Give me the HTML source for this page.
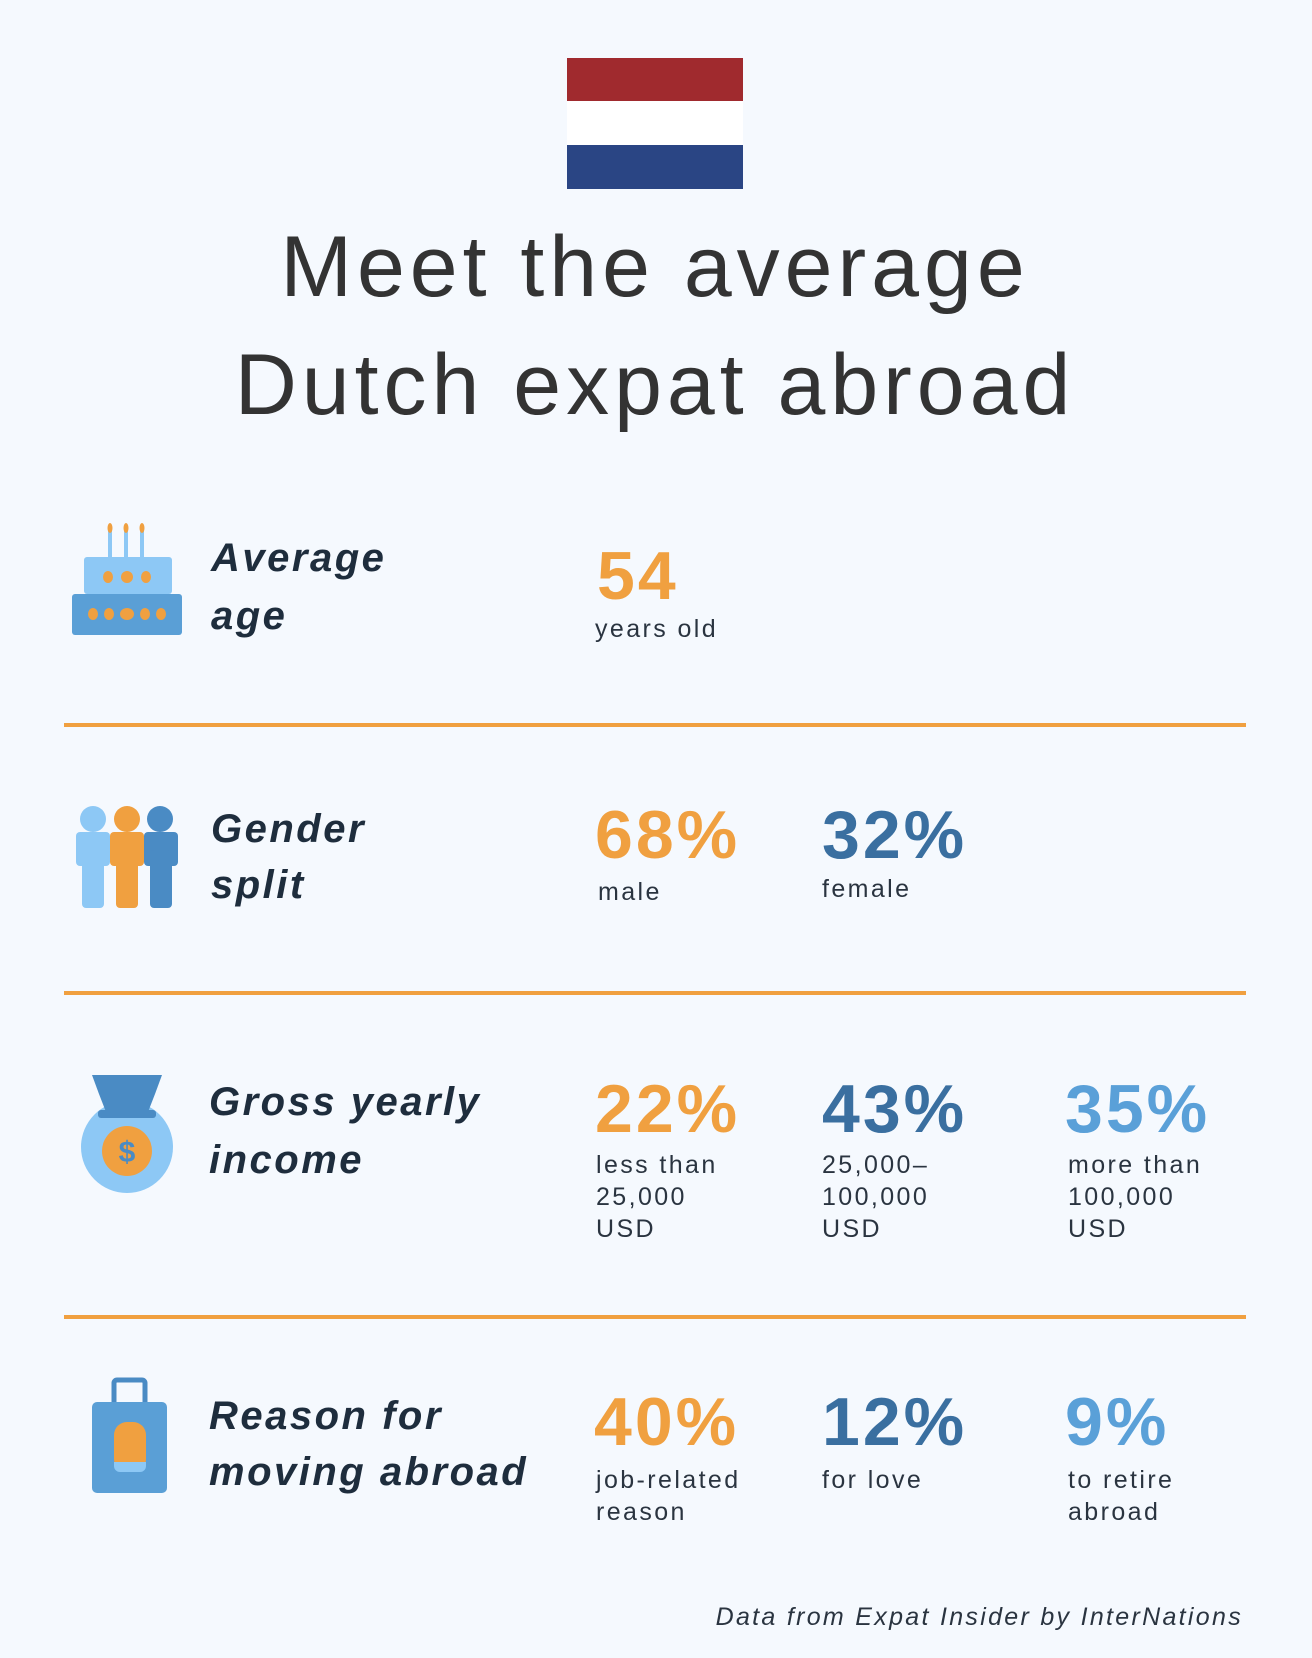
<!DOCTYPE html>
<html><head><meta charset="utf-8"><style>
html,body{margin:0;padding:0;background:#f5f9fe;}
svg{display:block;}
text{font-family:"Liberation Sans",sans-serif;}
.h{font-style:italic;font-weight:bold;font-size:40px;fill:#1e2d3d;letter-spacing:2.5px;}
.n{font-weight:bold;font-size:68px;letter-spacing:3px;}
.s{font-size:25px;fill:#2a3440;letter-spacing:2.4px;}
.t{font-size:86px;fill:#333;letter-spacing:5px;}
</style></head><body>
<svg width="1312" height="1658" viewBox="0 0 1312 1658">
<rect width="1312" height="1658" fill="#f5f9fe"/>
<rect x="567" y="58" width="176" height="43" fill="#a02a2e"/>
<rect x="567" y="101" width="176" height="44" fill="#ffffff"/>
<rect x="567" y="145" width="176" height="44" fill="#2a4584"/>
<text class="t" x="655" y="296" text-anchor="middle">Meet the average</text>
<text class="t" x="655" y="414" text-anchor="middle">Dutch expat abroad</text>

<!-- cake -->
<g fill="#8dc8f5"><rect x="108" y="530" width="4" height="28"/><rect x="124" y="530" width="4" height="28"/><rect x="140" y="530" width="4" height="28"/></g>
<g fill="#f0a040"><ellipse cx="110" cy="528" rx="2.5" ry="5"/><ellipse cx="126" cy="528" rx="2.5" ry="5"/><ellipse cx="142" cy="528" rx="2.5" ry="5"/></g>
<rect x="84" y="557" width="88" height="37" rx="3" fill="#8dc8f5"/>
<rect x="72" y="594" width="110" height="41" rx="3" fill="#5a9fd6"/>
<g fill="#f0a040"><ellipse cx="108" cy="577" rx="5" ry="6"/><ellipse cx="127" cy="577" rx="6" ry="6"/><ellipse cx="146" cy="577" rx="5" ry="6"/>
<ellipse cx="93" cy="614" rx="5" ry="6"/><ellipse cx="109" cy="614" rx="5" ry="6"/><ellipse cx="127" cy="614" rx="7" ry="6"/><ellipse cx="145" cy="614" rx="5" ry="6"/><ellipse cx="161" cy="614" rx="5" ry="6"/></g>
<text class="h" x="211" y="571">Average</text>
<text class="h" x="211" y="629">age</text>
<text class="n" x="597" y="599" fill="#f0a040">54</text>
<text class="s" x="595" y="637">years old</text>
<rect x="64" y="723" width="1182" height="4" fill="#f0a040"/>

<!-- people -->
<g fill="#8dc8f5"><circle cx="93" cy="819" r="13"/><rect x="76" y="832" width="34" height="34" rx="4"/><rect x="82" y="850" width="22" height="58" rx="4"/></g>
<g fill="#f0a040"><circle cx="127" cy="819" r="13"/><rect x="110" y="832" width="34" height="34" rx="4"/><rect x="116" y="850" width="22" height="58" rx="4"/></g>
<g fill="#4a8bc4"><circle cx="160" cy="819" r="13"/><rect x="144" y="832" width="34" height="34" rx="4"/><rect x="150" y="850" width="22" height="58" rx="4"/></g>
<text class="h" x="211" y="842">Gender</text>
<text class="h" x="211" y="898">split</text>
<text class="n" x="595" y="858" fill="#f0a040">68%</text>
<text class="s" x="598" y="900">male</text>
<text class="n" x="822" y="858" fill="#3a6fa0">32%</text>
<text class="s" x="822" y="897">female</text>
<rect x="64" y="991" width="1182" height="4" fill="#f0a040"/>

<!-- money bag -->
<circle cx="127" cy="1147" r="46" fill="#8dc8f5"/>
<path d="M92 1075 L162 1075 L155 1094 L148 1112 L106 1112 L99 1094 Z" fill="#4a8bc4"/>
<rect x="98" y="1110" width="58" height="8" rx="3" fill="#4a8bc4"/>
<circle cx="127" cy="1151" r="25" fill="#f0a040"/>
<text x="127" y="1162" text-anchor="middle" font-size="30" fill="#4a8bc4" font-weight="bold">$</text>
<text class="h" x="209" y="1115">Gross yearly</text>
<text class="h" x="209" y="1173">income</text>
<text class="n" x="595" y="1132" fill="#f0a040">22%</text>
<text class="n" x="822" y="1132" fill="#3a6fa0">43%</text>
<text class="n" x="1065" y="1132" fill="#5aa0d8">35%</text>
<text class="s" x="596" y="1173">less than</text><text class="s" x="596" y="1205">25,000</text><text class="s" x="596" y="1237">USD</text>
<text class="s" x="822" y="1173">25,000–</text><text class="s" x="822" y="1205">100,000</text><text class="s" x="822" y="1237">USD</text>
<text class="s" x="1068" y="1173">more than</text><text class="s" x="1068" y="1205">100,000</text><text class="s" x="1068" y="1237">USD</text>
<rect x="64" y="1315" width="1182" height="4" fill="#f0a040"/>

<!-- suitcase -->
<rect x="114" y="1380" width="31" height="26" rx="3" fill="none" stroke="#4a8bc4" stroke-width="5"/>
<rect x="92" y="1402" width="75" height="91" rx="5" fill="#5a9fd6"/>
<rect x="114" y="1422" width="32" height="50" rx="13" fill="#f0a040"/>
<path d="M114 1462 H146 V1466 a6 6 0 0 1 -6 6 H120 a6 6 0 0 1 -6 -6 Z" fill="#8dc8f5"/>
<text class="h" x="209" y="1429">Reason for</text>
<text class="h" x="209" y="1485">moving abroad</text>
<text class="n" x="594" y="1445" fill="#f0a040">40%</text>
<text class="n" x="822" y="1445" fill="#3a6fa0">12%</text>
<text class="n" x="1065" y="1445" fill="#5aa0d8">9%</text>
<text class="s" x="596" y="1488">job-related</text><text class="s" x="596" y="1520">reason</text>
<text class="s" x="822" y="1488">for love</text>
<text class="s" x="1068" y="1488">to retire</text><text class="s" x="1068" y="1520">abroad</text>
<text x="1243" y="1625" text-anchor="end" font-size="25" font-style="italic" fill="#2a3440" letter-spacing="2.3">Data from Expat Insider by InterNations</text>
</svg>
</body></html>
